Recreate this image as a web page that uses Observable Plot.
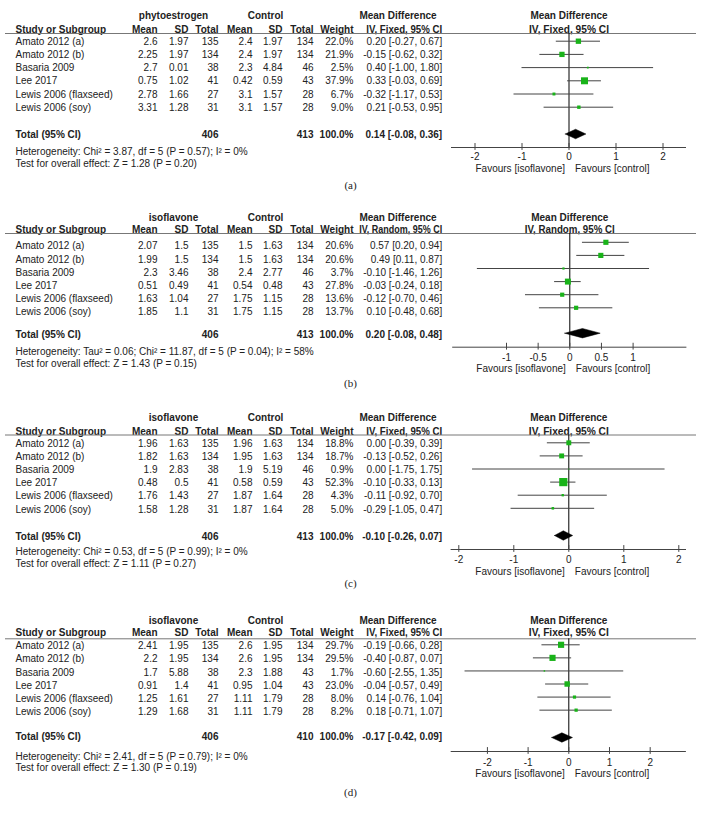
<!DOCTYPE html>
<html><head><meta charset="utf-8">
<script src="https://cdn.jsdelivr.net/npm/d3@7"></script>
<script src="https://cdn.jsdelivr.net/npm/@observablehq/plot@0.6"></script>
<style>body{margin:0;background:#fff;} #chart svg{display:block;}</style>
</head><body><div id="chart"></div>
<script>
// ---------- data ----------
const studies = ["Amato 2012 (a)", "Amato 2012 (b)", "Basaria 2009", "Lee 2017", "Lewis 2006 (flaxseed)", "Lewis 2006 (soy)"];
const groupLabels = ["phytoestrogen", "isoflavone", "isoflavone", "isoflavone"];
const methodLabels = ["IV, Fixed, 95% CI", "IV, Random, 95% CI", "IV, Fixed, 95% CI", "IV, Fixed, 95% CI"];
const hetLabels = [
  "Heterogeneity: Chi² = 3.87, df = 5 (P = 0.57); I² = 0%",
  "Heterogeneity: Tau² = 0.06; Chi² = 11.87, df = 5 (P = 0.04); I² = 58%",
  "Heterogeneity: Chi² = 0.53, df = 5 (P = 0.99); I² = 0%",
  "Heterogeneity: Chi² = 2.41, df = 5 (P = 0.79); I² = 0%"];
const testLabels = [
  "Test for overall effect: Z = 1.28 (P = 0.20)",
  "Test for overall effect: Z = 1.43 (P = 0.15)",
  "Test for overall effect: Z = 1.11 (P = 0.27)",
  "Test for overall effect: Z = 1.30 (P = 0.19)"];
const captions = ["(a)", "(b)", "(c)", "(d)"];
const favours = ["Favours [isoflavone]", "Favours [control]"];

// panel (a)
const aExpMean = [2.6, 2.25, 2.7, 0.75, 2.78, 3.31];
const aExpSD   = [1.97, 1.97, 0.01, 1.02, 1.66, 1.28];
const aExpN    = [135, 134, 38, 41, 27, 31];
const aCtlMean = [2.4, 2.4, 2.3, 0.42, 3.1, 3.1];
const aCtlSD   = [1.97, 1.97, 4.84, 0.59, 1.57, 1.57];
const aCtlN    = [134, 134, 46, 43, 28, 28];
const aWeight  = [22.0, 21.9, 2.5, 37.9, 6.7, 9.0];
const aMD      = [0.20, -0.15, 0.40, 0.33, -0.32, 0.21];
const aLow     = [-0.27, -0.62, -1.00, -0.03, -1.17, -0.53];
const aHigh    = [0.67, 0.32, 1.80, 0.69, 0.53, 0.95];
const aTotal   = [406, 413, 0.14, -0.08, 0.36];
const aTicks   = [-2, -1, 0, 1, 2];

// panel (b)
const bExpMean = [2.07, 1.99, 2.3, 0.51, 1.63, 1.85];
const bExpSD   = [1.5, 1.5, 3.46, 0.49, 1.04, 1.1];
const bExpN    = [135, 134, 38, 41, 27, 31];
const bCtlMean = [1.5, 1.5, 2.4, 0.54, 1.75, 1.75];
const bCtlSD   = [1.63, 1.63, 2.77, 0.48, 1.15, 1.15];
const bCtlN    = [134, 134, 46, 43, 28, 28];
const bWeight  = [20.6, 20.6, 3.7, 27.8, 13.6, 13.7];
const bMD      = [0.57, 0.49, -0.10, -0.03, -0.12, 0.10];
const bLow     = [0.20, 0.11, -1.46, -0.24, -0.70, -0.48];
const bHigh    = [0.94, 0.87, 1.26, 0.18, 0.46, 0.68];
const bTotal   = [406, 413, 0.20, -0.08, 0.48];
const bTicks   = [-1, -0.5, 0, 0.5, 1];

// panel (c)
const cExpMean = [1.96, 1.82, 1.9, 0.48, 1.76, 1.58];
const cExpSD   = [1.63, 1.63, 2.83, 0.5, 1.43, 1.28];
const cExpN    = [135, 134, 38, 41, 27, 31];
const cCtlMean = [1.96, 1.95, 1.9, 0.58, 1.87, 1.87];
const cCtlSD   = [1.63, 1.63, 5.19, 0.59, 1.64, 1.64];
const cCtlN    = [134, 134, 46, 43, 28, 28];
const cWeight  = [18.8, 18.7, 0.9, 52.3, 4.3, 5.0];
const cMD      = [0.00, -0.13, 0.00, -0.10, -0.11, -0.29];
const cLow     = [-0.39, -0.52, -1.75, -0.33, -0.92, -1.05];
const cHigh    = [0.39, 0.26, 1.75, 0.13, 0.70, 0.47];
const cTotal   = [406, 413, -0.10, -0.26, 0.07];
const cTicks   = [-2, -1, 0, 1, 2];

// panel (d)
const dExpMean = [2.41, 2.2, 1.7, 0.91, 1.25, 1.29];
const dExpSD   = [1.95, 1.95, 5.88, 1.4, 1.61, 1.68];
const dExpN    = [135, 134, 38, 41, 27, 31];
const dCtlMean = [2.6, 2.6, 2.3, 0.95, 1.11, 1.11];
const dCtlSD   = [1.95, 1.95, 1.88, 1.04, 1.79, 1.79];
const dCtlN    = [134, 134, 43, 43, 28, 28];
const dWeight  = [29.7, 29.5, 1.7, 23.0, 8.0, 8.2];
const dMD      = [-0.19, -0.40, -0.60, -0.04, 0.14, 0.18];
const dLow     = [-0.66, -0.87, -2.55, -0.57, -0.76, -0.71];
const dHigh    = [0.28, 0.07, 1.35, 0.49, 1.04, 1.07];
const dTotal   = [406, 410, -0.17, -0.42, 0.09];
const dTicks   = [-2, -1, 0, 1, 2];

// ---------- layout (pixels, absolute in page) ----------
const layouts = [
  {top:0,   height:195, h1:15,    h2:29,    line:33,    row0:41,    sp:13.2,  frow0:40.7,  total:134.5, diamond:133.5, het:151, test:163.3, axis:147,   tick:156,   fav:168.5, cap:185,   xDomain:[-2.5,2.5],   xRange:[451,686],     tableMethodW:76, forestMethodW:80},
  {top:195, height:205, h1:217.7, h2:229,   line:233,   row0:245.7, sp:13.1,  frow0:241.8, total:334.3, diamond:332.7, het:351, test:363.3, axis:346.7, tick:357.3, fav:368.3, cap:383.3, xDomain:[-1.85,1.85], xRange:[452.2,686.4], tableMethodW:83, forestMethodW:90},
  {top:400, height:200, h1:417.3, h2:431.7, line:434.5, row0:443.3, sp:13.1,  frow0:442.3, total:536,   diamond:535,   het:551, test:563.3, axis:549,   tick:559.3, fav:571.7, cap:583.3, xDomain:[-2.14,2.14], xRange:[450.6,686],   tableMethodW:76, forestMethodW:80},
  {top:600, height:221, h1:620.7, h2:632.3, line:638.3, row0:645.7, sp:13.07, frow0:644.3, total:736.7, diamond:737,   het:756, test:767.7, axis:751,   tick:762.3, fav:773.3, cap:792.3, xDomain:[-2.89,2.89], xRange:[450.7,685.9], tableMethodW:76, forestMethodW:80}
];
const ML = 5, MR = 7;
const col = {study:15, eMean:157, eSD:188, eN:218, cMean:252, cSD:282, cN:313, w:353, ci:441.7, expHead:173, ctlHead:265, mdHead:397.5, caption:350};
const green = "#19b319", ink = "#222";

const panels = [
  {expMean:aExpMean, expSD:aExpSD, expN:aExpN, ctlMean:aCtlMean, ctlSD:aCtlSD, ctlN:aCtlN, weight:aWeight, md:aMD, lo:aLow, hi:aHigh, total:aTotal, ticks:aTicks},
  {expMean:bExpMean, expSD:bExpSD, expN:bExpN, ctlMean:bCtlMean, ctlSD:bCtlSD, ctlN:bCtlN, weight:bWeight, md:bMD, lo:bLow, hi:bHigh, total:bTotal, ticks:bTicks},
  {expMean:cExpMean, expSD:cExpSD, expN:cExpN, ctlMean:cCtlMean, ctlSD:cCtlSD, ctlN:cCtlN, weight:cWeight, md:cMD, lo:cLow, hi:cHigh, total:cTotal, ticks:cTicks},
  {expMean:dExpMean, expSD:dExpSD, expN:dExpN, ctlMean:dCtlMean, ctlSD:dCtlSD, ctlN:dCtlN, weight:dWeight, md:dMD, lo:dLow, hi:dHigh, total:dTotal, ticks:dTicks}
];

const f2 = v => v.toFixed(2);
const ciText = (m, l, h) => `${f2(m)} [${f2(l)}, ${f2(h)}]`;

function makePanel(p, k) {
  const L = layouts[k];
  const R = px => (px - L.row0) / L.sp;
  const fShift = R(L.frow0);
  const rows = studies.map((s, i) => ({i, study:s, em:p.expMean[i], es:p.expSD[i], en:p.expN[i],
    cm:p.ctlMean[i], cs:p.ctlSD[i], cn:p.ctlN[i], w:p.weight[i], md:p.md[i], lo:p.lo[i], hi:p.hi[i]}));
  const [tExpN, tCtlN, tMD, tLo, tHi] = p.total;
  const dRow = R(L.diamond), dh = 0.36;
  const diamond = [[tLo, dRow], [tMD, dRow - dh], [tHi, dRow], [tMD, dRow + dh], [tLo, dRow]];

  const colText = (fmt, right, opts = {}) => Plot.text(rows, {y:"i", text: fmt, frameAnchor:"left", dx: right - ML, textAnchor:"end", fill: ink, ...opts});
  const label = (txt, x, yPx, anchor, opts = {}) => Plot.text([txt], {text: d => d, y: () => R(yPx), frameAnchor:"left", dx: x - ML, textAnchor: anchor, fill: ink, ...opts});
  const bold = {fontWeight:"bold"};

  const svg = Plot.plot({
    width: 703, height: L.height,
    marginLeft: ML, marginRight: MR, marginTop: 0, marginBottom: 0,
    style: {fontFamily: "'Liberation Sans', Arial, sans-serif", fontSize: "10px", background: "#fff", overflow: "visible"},
    x: {domain: L.xDomain, range: L.xRange, axis: null},
    y: {domain: [0, 1], range: [L.row0 - L.top, L.row0 - L.top + L.sp], axis: null},
    r: {type: "sqrt", domain: [0, 100], range: [0, 6.4]},
    marks: [
      // header
      label(groupLabels[k], col.expHead, L.h1, "middle", bold),
      label("Control", col.ctlHead, L.h1, "middle", bold),
      label("Mean Difference", col.mdHead, L.h1, "middle", bold),
      label("Study or Subgroup", col.study, L.h2, "start", bold),
      label("Mean", col.eMean, L.h2, "end", bold),
      label("SD", col.eSD, L.h2, "end", bold),
      label("Total", col.eN, L.h2, "end", bold),
      label("Mean", col.cMean, L.h2, "end", bold),
      label("SD", col.cSD, L.h2, "end", bold),
      label("Total", col.cN, L.h2, "end", bold),
      label("Weight", col.w, L.h2, "end", bold),
      label(methodLabels[k], col.ci, L.h2, "end", bold),
      Plot.text(["Mean Difference"], {text: d => d, x: () => 0, y: () => R(L.h1), fill: ink, fontWeight: "bold"}),
      Plot.text([methodLabels[k]], {text: d => d, x: () => 0, y: () => R(L.h2), fill: ink, fontWeight: "bold"}),
      Plot.ruleY([R(L.line)], {stroke: "#777", strokeWidth: 1}),
      // study rows
      colText(d => d.study, col.study, {textAnchor: "start"}),
      colText(d => String(d.em), col.eMean),
      colText(d => String(d.es), col.eSD),
      colText(d => String(d.en), col.eN),
      colText(d => String(d.cm), col.cMean),
      colText(d => String(d.cs), col.cSD),
      colText(d => String(d.cn), col.cN),
      colText(d => d.w.toFixed(1) + "%", col.w),
      colText(d => ciText(d.md, d.lo, d.hi), col.ci),
      // total row
      label("Total (95% CI)", col.study, L.total, "start", bold),
      label(String(tExpN), col.eN, L.total, "end", bold),
      label(String(tCtlN), col.cN, L.total, "end", bold),
      label("100.0%", col.w, L.total, "end", bold),
      label(ciText(tMD, tLo, tHi), col.ci, L.total, "end", bold),
      label(hetLabels[k], col.study, L.het, "start"),
      label(testLabels[k], col.study, L.test, "start"),
      label(captions[k], col.caption, L.cap, "middle", {fontFamily: "'Liberation Serif', 'Times New Roman', serif", fontSize: 11}),
      // forest
      Plot.ruleX([0], {y1: R(L.line), y2: R(L.axis), stroke: "#000"}),
      Plot.ruleY(rows, {y: d => d.i + fShift, x1: "lo", x2: "hi", stroke: "#444"}),
      Plot.dot(rows, {x: "md", y: d => d.i + fShift, r: "w", symbol: "square", fill: green, stroke: "none"}),
      Plot.line(diamond, {x: d => d[0], y: d => d[1], fill: "#000", stroke: "#000", strokeWidth: 0.5}),
      // axis
      Plot.ruleY([R(L.axis)], {x1: L.xDomain[0], x2: L.xDomain[1], stroke: "#444"}),
      Plot.ruleX(p.ticks, {x: d => d, y1: R(L.axis) - 0.3, y2: R(L.axis) + 0.22, stroke: "#444"}),
      Plot.text(p.ticks, {x: d => d, y: () => R(L.tick), text: d => String(d), fill: ink}),
      Plot.text([favours[0]], {text: d => d, x: () => 0, y: () => R(L.fav), textAnchor: "end", dx: -4, fill: ink}),
      Plot.text([favours[1]], {text: d => d, x: () => 0, y: () => R(L.fav), textAnchor: "start", dx: 6, fill: ink})
    ]
  });

  // fit the bold method headers to the reference's narrower widths
  d3.select(svg).selectAll("text").each(function () {
    if (this.textContent !== methodLabels[k]) return;
    const anchor = this.parentNode.getAttribute("text-anchor");
    const w = anchor === "end" ? L.tableMethodW : L.forestMethodW;
    this.setAttribute("textLength", w);
    this.setAttribute("lengthAdjust", "spacingAndGlyphs");
  });
  return svg;
}

const chart = document.getElementById("chart");
panels.forEach((p, k) => chart.appendChild(makePanel(p, k)));
</script>
</body></html>
